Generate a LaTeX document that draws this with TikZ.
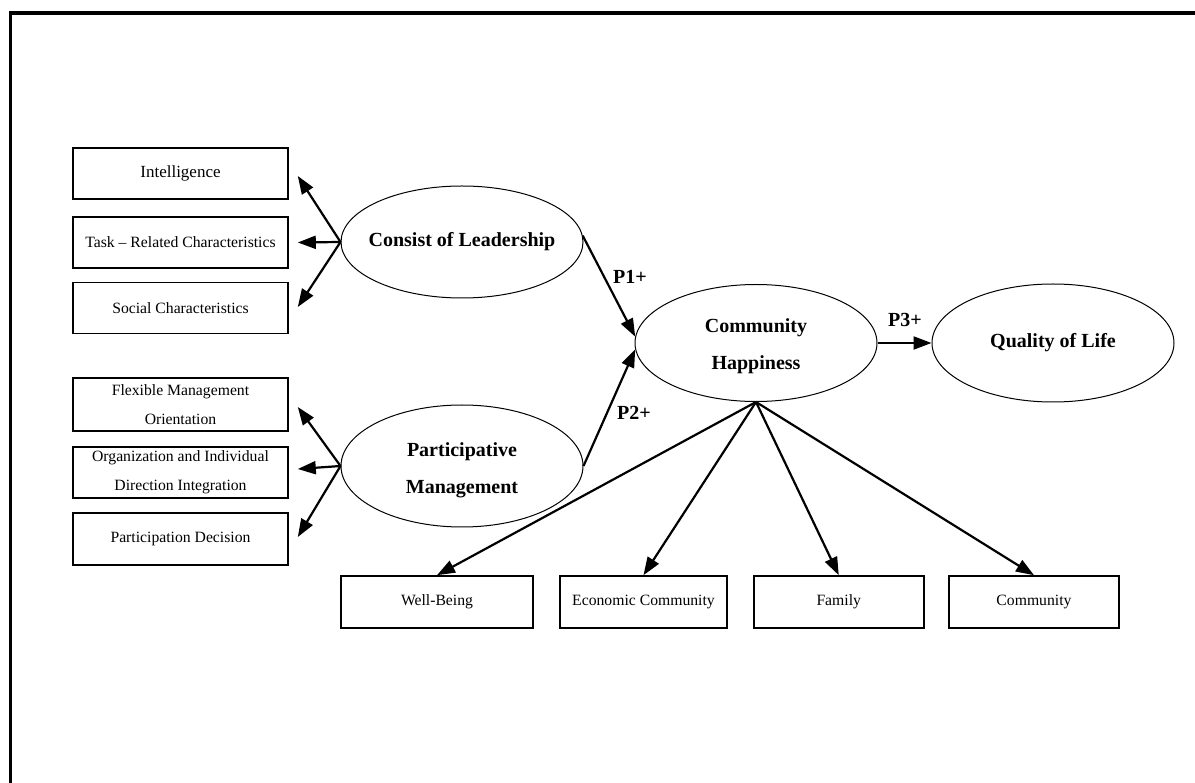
\documentclass[tikz,border=0pt]{standalone}
\usepackage{fontspec}
\setmainfont{Liberation Serif}
\usetikzlibrary{shapes.geometric,arrows.meta,calc}
\begin{document}
\begin{tikzpicture}[x=1pt,y=-1pt,
  box/.style={draw, line width=1.6pt, rectangle, inner sep=0pt, align=center, font=\fontsize{15.7}{29}\selectfont},
  lbox/.style={box, minimum width=215pt, minimum height=51pt},
  bbox/.style={box, minimum height=52pt},
  ell/.style={draw, line width=1pt, ellipse, inner sep=0pt, minimum width=242pt},
  etext/.style={font=\bfseries\fontsize{20}{37}\selectfont, align=center, inner sep=0pt},
  arr/.style={line width=2.2pt, -{Triangle[length=18pt,width=13pt]}},
  plab/.style={font=\bfseries\fontsize{20}{24}\selectfont, inner sep=0pt}
]
\useasboundingbox (0,0) rectangle (1195,783);
% frame
\draw[line width=3.6pt, line join=miter] (10.5,783) -- (10.5,13.3) -- (1195,13.3);

% left boxes
\node[lbox, font=\fontsize{17}{29}\selectfont] (intel) at (180.5,173.5) {Intelligence};
\node[lbox] (task) at (180.5,242.5) {Task -- Related Characteristics};
\node[lbox] (soc) at (180.5,308) {Social Characteristics};
\node[lbox, minimum height=53pt] (flex) at (180.5,404.5) {Flexible Management\\Orientation};
\node[lbox] (org) at (180.5,472.5) {Organization and Individual\\Direction Integration};
\node[lbox, minimum height=52pt] (part) at (180.5,539) {Participation Decision};

% ellipses
\node[ell, minimum height=112pt] (cl) at (462,242) {};
\node[etext] (clt) at (cl.center) {Consist of Leadership};
\node[ell, minimum height=122pt] (pm) at (462,466) {};
\node[etext] (pmt) at ($(pm.center)+(0,4)$) {Participative\\Management};
\node[ell, minimum height=117pt] (ch) at (756,343) {};
\node[etext] (cht) at ($(ch.center)+(0,3)$) {Community\\Happiness};
\node[ell, minimum height=118pt] (qol) at (1053,343) {};
\node[etext] (qolt) at (qol.center) {Quality of Life};

% bottom boxes
\node[bbox, minimum width=192pt] (wb) at (437,602) {Well-Being};
\node[bbox, minimum width=167pt] (ec) at (643.5,602) {Economic Community};
\node[bbox, minimum width=170pt] (fam) at (838.75,602) {Family};
\node[bbox, minimum width=170pt] (com) at (1034,602) {Community};

% leadership arrows
\draw[arr] (cl.west) -- ($(intel.east)+(9,2.5)$);
\draw[arr] (cl.west) -- ($(task.east)+(9,0)$);
\draw[arr] (cl.west) -- ($(soc.east)+(9,-1)$);
% participative arrows
\draw[arr] (pm.west) -- ($(flex.east)+(9,2.5)$);
\draw[arr] (pm.west) -- ($(org.east)+(9,-3.5)$);
\draw[arr] (pm.west) -- ($(part.east)+(9,-2)$);

% paths
\draw[arr] (cl.3) -- (ch.177);
\draw[arr] (pm.east) -- (ch.183);
\draw[arr] (ch.east) -- (qol.west);

% happiness dimensions
\draw[arr] (ch.south) -- (wb.north);
\draw[arr] (ch.south) -- (ec.north);
\draw[arr] (ch.south) -- (fam.north);
\draw[arr] (ch.south) -- (com.north);

% labels
\node[plab] (p1) at (630,277) {P1+};
\node[plab] (p2) at (634,413) {P2+};
\node[plab] (p3) at (905,320) {P3+};
\end{tikzpicture}
\end{document}
